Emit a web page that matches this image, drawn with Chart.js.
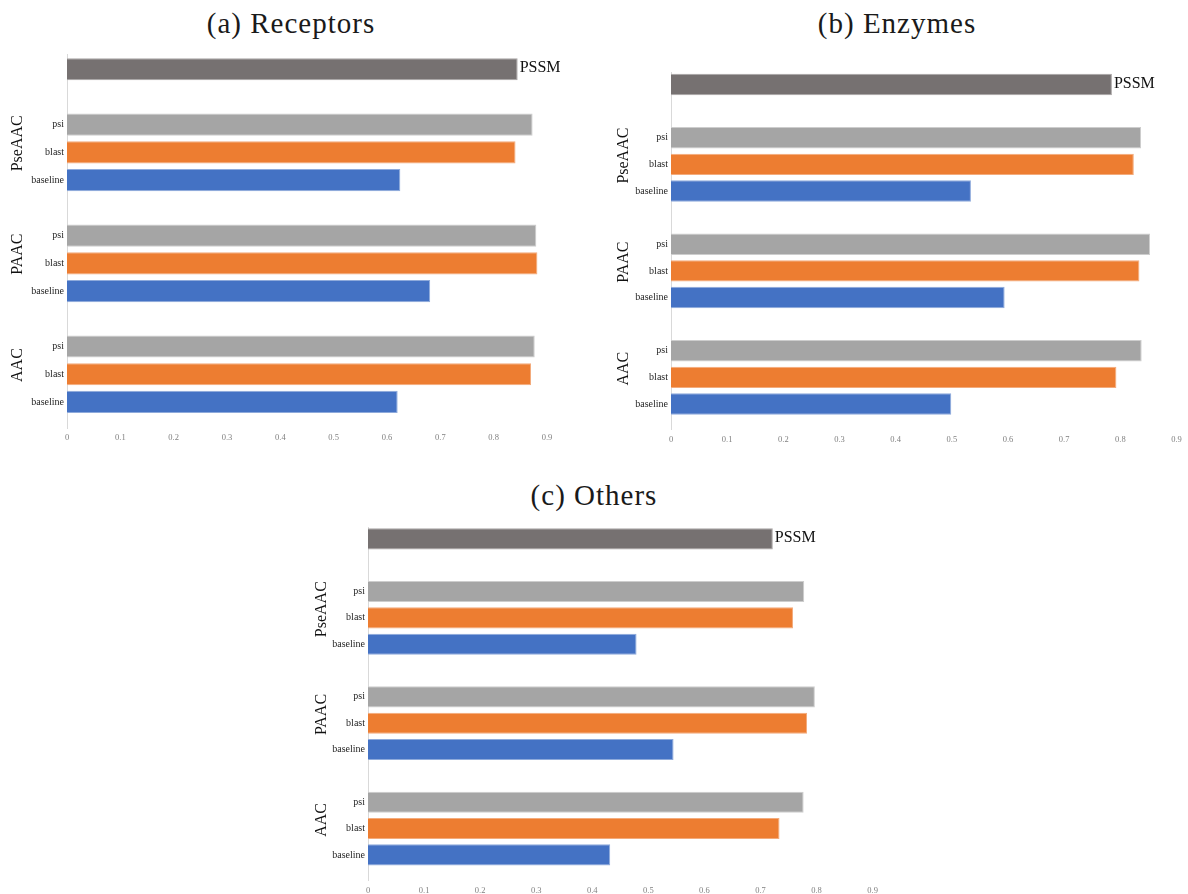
<!DOCTYPE html>
<html>
<head>
<meta charset="utf-8">
<script src="https://cdn.jsdelivr.net/npm/chart.js@4.4.1/dist/chart.umd.min.js"></script>
<style>
  html, body { margin: 0; padding: 0; background: #ffffff; }
  body { width: 1188px; height: 894px; position: relative; overflow: hidden; }
  canvas { position: absolute; }
  .ptitle { position: absolute; font-family: "Liberation Serif", serif; font-size: 29px; letter-spacing: 1px;
            color: #1a1a1a; transform: translateX(-50%); white-space: nowrap; line-height: 1; }
</style>
</head>
<body>
<div class="ptitle" style="left:291px; top:9px;">(a) Receptors</div>
<div class="ptitle" style="left:897px; top:9px;">(b) Enzymes</div>
<div class="ptitle" style="left:594px; top:481px;">(c) Others</div>
<canvas id="cA" width="600" height="410" style="left:0px; top:40px; width:600px; height:410px;"></canvas>
<canvas id="cB" width="588" height="400" style="left:600px; top:50px; width:588px; height:400px;"></canvas>
<canvas id="cC" width="600" height="430" style="left:290px; top:470px; width:600px; height:430px;"></canvas>
<script>
// ---------------- data ----------------
const pssmLabel = 'PSSM';
const featureGroups = ['PseAAC', 'PAAC', 'AAC'];
const methodLabels = ['psi', 'blast', 'baseline'];
const yTickLabels = ['', '', 'psi', 'blast', 'baseline', '', 'psi', 'blast', 'baseline', '', 'psi', 'blast', 'baseline'];
const xTickLabels = ['0', '0.1', '0.2', '0.3', '0.4', '0.5', '0.6', '0.7', '0.8', '0.9'];

// (a) Receptors  — order within arrays: PseAAC, PAAC, AAC
const receptorsPSSM = 0.845;
const receptorsPsi = [0.873, 0.880, 0.877];
const receptorsBlast = [0.841, 0.882, 0.870];
const receptorsBaseline = [0.625, 0.681, 0.620];

// (b) Enzymes
const enzymesPSSM = 0.785;
const enzymesPsi = [0.837, 0.853, 0.838];
const enzymesBlast = [0.824, 0.834, 0.793];
const enzymesBaseline = [0.534, 0.594, 0.499];

// (c) Others
const othersPSSM = 0.722;
const othersPsi = [0.778, 0.797, 0.777];
const othersBlast = [0.758, 0.783, 0.734];
const othersBaseline = [0.479, 0.545, 0.432];

// ---------------- styles ----------------
const colPSSM = '#767171', colPsi = '#A5A5A5', colBlast = '#ED7D31', colBase = '#4472C4';
const bordPSSM = '#a9a5a5', bordPsi = '#cdcdcd', bordBlast = '#f3ab7c', bordBase = '#8eaadb';
const serif = '"Liberation Serif", "Times New Roman", serif';

function buildPoints(pssm, psi, blast, base) {
  const pts = [{ x: pssm, y: 0 }];
  const bg = [colPSSM], bd = [bordPSSM];
  for (let g = 0; g < featureGroups.length; g++) {
    pts.push({ x: psi[g], y: 2 + 4 * g });   bg.push(colPsi);   bd.push(bordPsi);
    pts.push({ x: blast[g], y: 3 + 4 * g }); bg.push(colBlast); bd.push(bordBlast);
    pts.push({ x: base[g], y: 4 + 4 * g });  bg.push(colBase);  bd.push(bordBase);
  }
  return { pts, bg, bd };
}

const annotPlugin = {
  id: 'annot',
  afterDatasetsDraw(chart, args, opts) {
    const ctx = chart.ctx, ys = chart.scales.y, area = chart.chartArea;
    ctx.save();
    const el = chart.getDatasetMeta(0).data[0];
    ctx.font = '16px ' + serif;
    ctx.fillStyle = '#111111';
    ctx.textAlign = 'left';
    ctx.textBaseline = 'middle';
    ctx.fillText(pssmLabel, el.x + 2, el.y - 1);
    ctx.font = '16px ' + serif;
    featureGroups.forEach((g, i) => {
      const py = ys.getPixelForValue(3 + 4 * i - 0.33);
      ctx.save();
      ctx.translate(area.left - opts.groupOffset, py);
      ctx.rotate(-Math.PI / 2);
      ctx.textAlign = 'center';
      ctx.textBaseline = 'middle';
      ctx.fillText(g, 0, 0);
      ctx.restore();
    });
    ctx.restore();
  }
};

function makeChart(id, d, cfg) {
  const b = buildPoints(d[0], d[1], d[2], d[3]);
  return new Chart(document.getElementById(id), {
    type: 'bar',
    data: {
      datasets: [{
        data: b.pts,
        backgroundColor: b.bg,
        borderColor: b.bd,
        borderWidth: 1,
        categoryPercentage: 1.0,
        barPercentage: 0.8
      }]
    },
    options: {
      indexAxis: 'y',
      responsive: false,
      animation: false,
      devicePixelRatio: 1,
      layout: { padding: { left: 0, right: cfg.padRight, top: cfg.padTop, bottom: 0 } },
      plugins: { legend: { display: false }, tooltip: { enabled: false }, title: { display: false },
                 annot: { groupOffset: cfg.groupOffset } },
      scales: {
        x: {
          type: 'linear', min: 0, max: 0.9, offset: false,
          grid: { display: false, drawTicks: false, tickLength: 0 },
          border: { display: false },
          ticks: {
            stepSize: 0.1, autoSkip: false, maxRotation: 0, padding: 5,
            color: '#808080', font: { family: serif, size: 8.5 },
            callback: (v) => xTickLabels[Math.round(v * 10)]
          },
          afterFit: (s) => { s.height = cfg.xAxisH; }
        },
        y: {
          type: 'linear', reverse: true, min: cfg.yMin, max: cfg.yMax, offset: false,
          grid: { display: false, drawTicks: false, tickLength: 0, offset: false },
          border: { display: true, color: '#d9d9d9', width: 1 },
          ticks: {
            stepSize: 1, autoSkip: false, includeBounds: false, maxTicksLimit: 30, padding: 3,
            color: '#262626', font: { family: serif, size: 10 },
            callback: (v) => (Number.isInteger(v) && yTickLabels[v] !== undefined) ? yTickLabels[v] : ''
          },
          afterFit: (s) => { s.width = cfg.yAxisW; }
        }
      }
    },
    plugins: [annotPlugin]
  });
}

makeChart('cA', [receptorsPSSM, receptorsPsi, receptorsBlast, receptorsBaseline],
  { padRight: 53, padTop: 14, xAxisH: 22, yAxisW: 67, yMin: -0.55, yMax: 12.94, groupOffset: 49 });
makeChart('cB', [enzymesPSSM, enzymesPsi, enzymesBlast, enzymesBaseline],
  { padRight: 11.5, padTop: 22, xAxisH: 20.7, yAxisW: 71, yMin: -0.47, yMax: 12.95, groupOffset: 47 });
makeChart('cC', [othersPSSM, othersPsi, othersBlast, othersBaseline],
  { padRight: 17.4, padTop: 57, xAxisH: 19.3, yAxisW: 78, yMin: -0.45, yMax: 12.98, groupOffset: 46 });
</script>
</body>
</html>
